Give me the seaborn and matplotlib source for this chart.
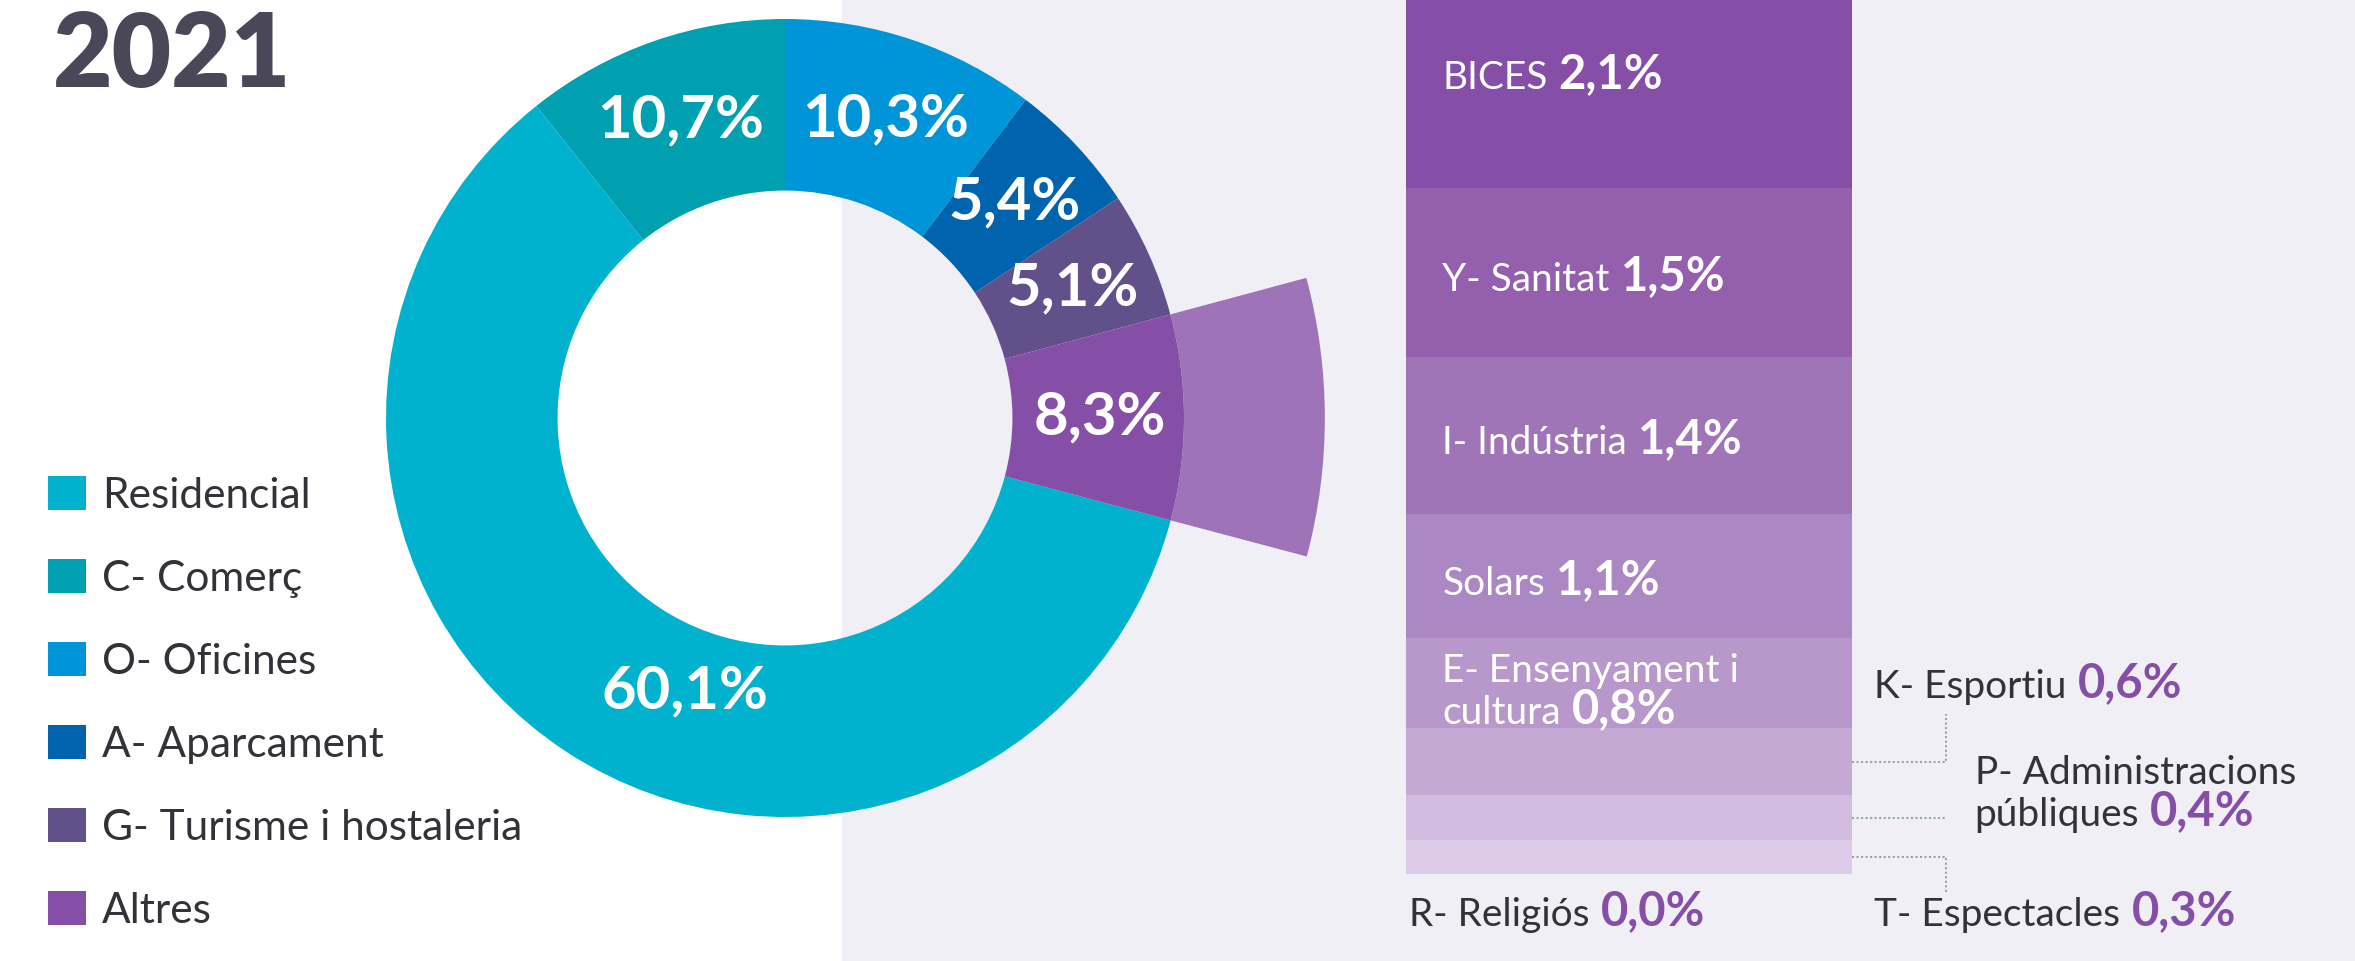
import numpy as np
import pandas as pd
import seaborn as sns
import matplotlib
matplotlib.use('Agg')
import matplotlib.pyplot as plt
from matplotlib.patches import Patch, Rectangle

# main land uses, legend order (= clockwise order in the ring)
uses = ['Residencial', 'C- Comerç', 'O- Oficines', 'A- Aparcament',
        'G- Turisme i hostaleria', 'Altres']
use_pct = [60.1, 10.7, 10.3, 5.4, 5.1, 8.3]
use_colors = ['#00b2cd', '#00a0b1', '#0095d8', '#0063ad', '#62508a', '#854fa7']

# breakdown of "Altres", top to bottom of the stacked bar
other_uses = ['BICES', 'Y- Sanitat', 'I- Indústria', 'Solars',
              'E- Ensenyament i\ncultura', 'K- Esportiu',
              'P- Administracions\npúbliques', 'T- Espectacles', 'R- Religiós']
other_pct = [2.1, 1.5, 1.4, 1.1, 0.8, 0.6, 0.4, 0.3, 0.0]
other_colors = ['#854fa7', '#9460ae', '#9f75b8', '#ab88c3', '#b898ca',
                '#c4a9d5', '#d1bbdf', '#dccce7', '#e6dbee']

title = '2021'


def fmt(v):
    return ('%.1f%%' % v).replace('.', ',')


sns.set_theme(style='white')
plt.rcParams['font.family'] = ['Lato', 'DejaVu Sans']

W, H = 2355, 961
DARK = '#333238'
PURPLE = '#854fa7'
fig = plt.figure(figsize=(W / 100, H / 100), dpi=100)
fig.patch.set_facecolor('white')
fig.add_artist(Rectangle((842 / W, 0), 1 - 842 / W, 1, transform=fig.transFigure,
                         facecolor='#f0eff5', edgecolor='none', zorder=-10))

fig.text(53 / W, 1 - 87 / H, title, ha='left', va='baseline', fontsize=74,
         fontweight='heavy', color='#4a4858')

# ---- donut ----
cx, cy, R = 785, 418, 399
lim = 1.4
side = 2 * lim * R
ax_pie = fig.add_axes([(cx - side / 2) / W, (H - cy - side / 2) / H, side / W, side / H])
total = sum(use_pct)
start = 90 + (use_pct[0] + use_pct[1]) / total * 360

# pulled-out band behind "Altres"
ax_pie.pie(use_pct, radius=1.353, startangle=start, counterclock=False,
           colors=['none'] * (len(uses) - 1) + ['#9e73b8'], labeldistance=None,
           wedgeprops=dict(width=0.353, linewidth=0))
wedges, autotexts = ax_pie.pie(
    use_pct, radius=1, startangle=start, counterclock=False, colors=use_colors,
    wedgeprops=dict(width=0.43, linewidth=0), labeldistance=None,
    autopct=lambda p: fmt(p * total / 100), pctdistance=0.79,
    textprops=dict(color='white', fontsize=43, fontweight='bold'))[::2]
ang = np.deg2rad(250)
autotexts[0].set_position((0.73 * np.cos(ang), 0.73 * np.sin(ang)))
ax_pie.set_xlim(-lim, lim)
ax_pie.set_ylim(-lim, lim)
ax_pie.set_aspect('equal')
ax_pie.axis('off')

handles = [Patch(facecolor=c, edgecolor='none') for c in use_colors]
fig.legend(handles, uses, loc='upper left', bbox_to_anchor=(48 / W, 1 - 476 / H),
           frameon=False, fontsize=30.5, handlelength=0.9, handleheight=0.85,
           handletextpad=0.38, labelspacing=1.05, borderpad=0, borderaxespad=0,
           labelcolor=DARK)

# ---- stacked bar for "Altres" ----
bar_left, bar_right, bar_base, px_pct = 1406, 1852, 874, 112.5
ux = (bar_right - bar_left) / 0.8
ax_bar = fig.add_axes([1380 / W, 0, 1 - 1380 / W, 1])

df = pd.DataFrame({'use': other_uses, 'pct': other_pct, 'color': other_colors})
df['top'] = df['pct'][::-1].cumsum()[::-1]
df['mid'] = df['top'] - df['pct'] / 2

for _, row in df.iterrows():
    sns.barplot(x=[0], y=[row['top']], color=row['color'], saturation=1,
                width=0.8, linewidth=0, errorbar=None, ax=ax_bar)

ax_bar.set_xlim(-0.4 - (bar_left - 1380) / ux, 0.4 + (W - bar_right) / ux)
ax_bar.set_ylim(-(H - bar_base) / px_pct, bar_base / px_pct)
ax_bar.axis('off')


def put_label(x, y, name, value, name_color, value_color, pitch=0.37):
    lines = name.split('\n')
    for k, line in enumerate(lines):
        t = ax_bar.text(x, y - k * pitch, line, fontsize=28, color=name_color,
                        ha='left', va='baseline')
    ax_bar.annotate(value, xy=(1, 0), xycoords=t, xytext=(8, 0),
                    textcoords='offset points', ha='left', va='bottom',
                    fontsize=34, fontweight='bold', color=value_color)


# labels inside the bar (first five segments)
for _, row in df.iloc[:5].iterrows():
    n = row['use'].count('\n') + 1
    y0 = row['mid'] - 0.17 + (n - 1) / 2 * 0.345
    put_label(-0.335, y0, row['use'], fmt(row['pct']), 'white', 'white')

# labels outside: x, first baseline, connector end y
conn_x = 0.569
outside = {
    'K- Esportiu': (0.44, 1.564, 1.42),
    'P- Administracions\npúbliques': (0.62, 0.80, None),
    'T- Espectacles': (0.44, -0.462, -0.16),
    'R- Religiós': (-0.395, -0.462, None),
}
for _, row in df.iloc[5:].iterrows():
    lx, ly, cend = outside[row['use']]
    put_label(lx, ly, row['use'], fmt(row['pct']), DARK, PURPLE)
    if row['pct'] > 0:
        xs = [0.4, conn_x]
        ys = [row['mid'], row['mid']]
        if cend is not None:
            xs.append(conn_x)
            ys.append(cend)
        ax_bar.plot(xs, ys, color='#8ea3ab', lw=1.45, ls=(0, (1, 1.25)))

fig.savefig('out.png', dpi=100, facecolor=fig.get_facecolor())
